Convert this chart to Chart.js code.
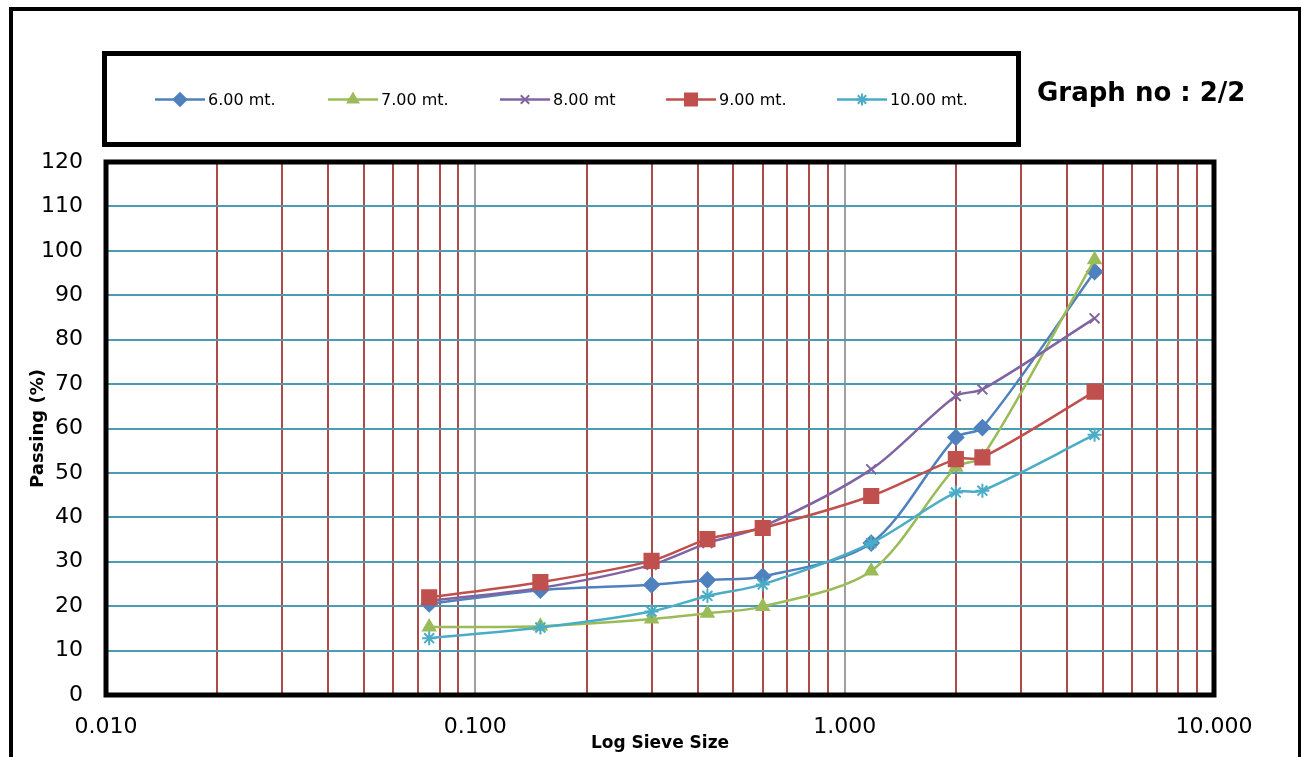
<!DOCTYPE html>
<html>
<head>
<meta charset="utf-8">
<script src="https://cdn.jsdelivr.net/npm/chart.js@4.4.1/dist/chart.umd.min.js"></script>
<style>
    html, body { margin: 0; padding: 0; background: #fff; }
    #wrap { width: 1301px; height: 757px; }
</style>
</head>
<body>
<div id="wrap"><canvas id="chart-sieve" width="1301" height="757"></canvas></div>
<script>
// sieve sizes (mm) and % passing per depth
const sieveSizes = [0.075, 0.15, 0.3, 0.425, 0.6, 1.18, 2.0, 2.36, 4.75];
const depthLabels = ['6.00 mt.', '7.00 mt.', '8.00 mt', '9.00 mt.', '10.00 mt.'];
const passing6 = [20.5, 23.6, 24.8, 25.9, 26.7, 34.2, 58.0, 60.2, 95.3];
const passing7 = [15.3, 15.5, 17.1, 18.4, 19.9, 27.9, 51.3, 53.6, 98.0];
const passing8 = [21.2, 24.1, 29.3, 34.2, 37.9, 50.8, 67.3, 68.8, 84.8];
const passing9 = [22.0, 25.4, 30.2, 35.1, 37.6, 44.8, 53.1, 53.5, 68.3];
const passing10 = [12.8, 15.2, 18.8, 22.3, 24.9, 34.2, 45.6, 46.0, 58.6];
const xTickValues = [
    0.01, 0.02, 0.03, 0.04, 0.05, 0.06, 0.07, 0.08, 0.09,
    0.1, 0.2, 0.3, 0.4, 0.5, 0.6, 0.7, 0.8, 0.9,
    1, 2, 3, 4, 5, 6, 7, 8, 9, 10,
];
const xLabelValues = [0.01, 0.1, 1, 10];

const seriesColors = ['#4f81bd', '#9bbb59', '#8064a2', '#c0504d', '#4bacc6'];
const seriesMarkers = ['rectRot', 'triangle', 'crossRot', 'rect', 'star'];
const seriesRadius = [7.5, 7, 7, 10, 7];
const allPassing = [passing6, passing7, passing8, passing9, passing10];

const fontFamily = '"DejaVu Sans", sans-serif';

function toPoints(values) {
    return sieveSizes.map((s, i) => ({x: s, y: values[i]}));
}

const datasets = allPassing.map((values, i) => ({
    label: depthLabels[i],
    data: toPoints(values),
    borderColor: seriesColors[i],
    backgroundColor: seriesColors[i],
    pointBackgroundColor: seriesColors[i],
    pointBorderColor: seriesColors[i],
    pointStyle: seriesMarkers[i],
    pointRadius: seriesRadius[i],
    pointBorderWidth: 2,
    borderWidth: 2.5,
    tension: 0.3,
    order: allPassing.length - i,
}));

const framePlugin = {
    id: 'frame',
    beforeDatasetsDraw(chart) {
        const {ctx, chartArea} = chart;
        ctx.save();
        ctx.strokeStyle = '#000';
        ctx.lineWidth = 5;
        ctx.strokeRect(chartArea.left, chartArea.top,
            chartArea.right - chartArea.left, chartArea.bottom - chartArea.top);
        ctx.restore();
    },
    afterDraw(chart) {
        const ctx = chart.ctx;
        ctx.save();
        // outer border
        ctx.strokeStyle = '#000';
        ctx.lineWidth = 4;
        ctx.strokeRect(11, 9, 1289, 800);

        // legend box
        ctx.lineWidth = 5;
        ctx.strokeRect(104.5, 53.5, 914, 91);

        const itemX = [155, 328, 500, 666, 837];
        const y = 99.5;
        ctx.font = '16px ' + fontFamily;
        ctx.textBaseline = 'middle';
        ctx.textAlign = 'left';
        datasets.forEach((ds, i) => {
            const x0 = itemX[i];
            ctx.strokeStyle = ds.borderColor;
            ctx.lineWidth = 2.5;
            ctx.beginPath();
            ctx.moveTo(x0, y);
            ctx.lineTo(x0 + 50, y);
            ctx.stroke();
            ctx.fillStyle = ds.borderColor;
            ctx.lineWidth = 2;
            Chart.helpers.drawPoint(ctx, {
                pointStyle: ds.pointStyle,
                radius: ds.pointRadius * 0.85,
                rotation: 0,
                borderWidth: 2,
            }, x0 + 25, y);
            ctx.fillStyle = '#000';
            ctx.fillText(ds.label, x0 + 53, y + 1);
        });

        ctx.font = 'bold 26px ' + fontFamily;
        ctx.fillStyle = '#000';
        ctx.fillText('Graph no : 2/2', 1037, 94);
        ctx.restore();
    },
};

new Chart(document.getElementById('chart-sieve'), {
    type: 'line',
    data: {datasets: datasets},
    plugins: [framePlugin],
    options: {
        responsive: false,
        animation: false,
        layout: {
            padding: {left: 0, right: 87, top: 162, bottom: 0},
        },
        plugins: {
            legend: {display: false},
            tooltip: {enabled: false},
        },
        scales: {
            x: {
                type: 'logarithmic',
                min: 0.01,
                max: 10,
                afterBuildTicks(scale) {
                    scale.ticks = xTickValues.map(v => ({value: v}));
                },
                afterFit(scale) {
                    scale.height = 62;
                },
                ticks: {
                    autoSkip: false,
                    maxRotation: 0,
                    padding: 19,
                    color: '#000',
                    font: {family: fontFamily, size: 22},
                    callback(value) {
                        return xLabelValues.some(v => Math.abs(v - value) < 1e-9) ? Number(value).toFixed(3) : '';
                    },
                },
                grid: {
                    drawTicks: false,
                    lineWidth: 2,
                    color(context) {
                        const v = context.tick ? context.tick.value : 0;
                        return (Math.abs(v - 0.1) < 1e-9 || Math.abs(v - 1) < 1e-9) ? '#a0a0a0' : '#b04a4a';
                    },
                },
                border: {display: false},
                title: {
                    display: true,
                    text: 'Log Sieve Size',
                    color: '#000',
                    font: {family: fontFamily, size: 17, weight: 'bold'},
                    padding: {top: 3, bottom: 3},
                },
            },
            y: {
                min: 0,
                max: 120,
                afterFit(scale) {
                    scale.width = 106;
                },
                ticks: {
                    stepSize: 10,
                    padding: 23,
                    color: '#000',
                    font: {family: fontFamily, size: 22},
                },
                grid: {
                    drawTicks: false,
                    lineWidth: 2,
                    color: '#4a9cb2',
                },
                border: {display: false},
                title: {
                    display: true,
                    text: 'Passing (%)',
                    color: '#000',
                    font: {family: fontFamily, size: 18, weight: 'bold'},
                    padding: {top: 28, bottom: 28},
                },
            },
        },
    },
});
</script>
</body>
</html>
